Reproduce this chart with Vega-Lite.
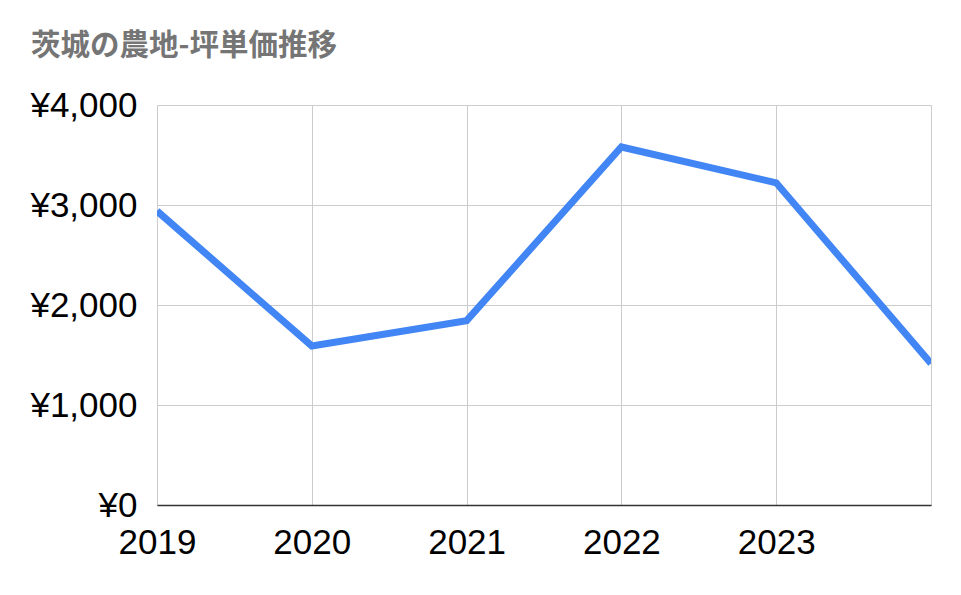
{
  "$schema": "https://vega.github.io/schema/vega-lite/v6.json",
  "width": 774,
  "height": 400,
  "autosize": "none",
  "padding": {"left": 157, "top": 105, "right": 30, "bottom": 90},
  "background": "white",
  "config": {
    "view": {"stroke": "#cccccc", "strokeWidth": 1},
    "font": "Liberation Sans"
  },
  "title": {
    "text": "茨城の農地-坪単価推移",
    "anchor": "start",
    "frame": "group",
    "dx": -126,
    "offset": 27,
    "font": "Noto Sans CJK JP",
    "fontSize": 29.5,
    "fontWeight": "bold",
    "color": "#757575"
  },
  "data": {
    "values": [
      {"year": 2019, "price": 2940},
      {"year": 2020, "price": 1590},
      {"year": 2021, "price": 1843},
      {"year": 2022, "price": 3580},
      {"year": 2023, "price": 3222},
      {"year": 2024, "price": 1415}
    ]
  },
  "mark": {"type": "line", "color": "#4285F4", "strokeWidth": 7, "clip": true},
  "encoding": {
    "x": {
      "field": "year",
      "type": "quantitative",
      "scale": {"domain": [2019, 2024], "nice": false, "zero": false},
      "axis": {
        "title": null,
        "values": [2019, 2020, 2021, 2022, 2023, 2024],
        "labelExpr": "datum.value == 2024 ? '' : format(datum.value, 'd')",
        "ticks": false,
        "labelPadding": 20,
        "labelFontSize": 35,
        "labelColor": "#000000",
        "labelFont": "Liberation Sans",
        "labelFlush": false,
        "labelOverlap": false,
        "grid": true,
        "gridColor": "#cccccc",
        "domainColor": "#333333",
        "domainWidth": 1.5
      }
    },
    "y": {
      "field": "price",
      "type": "quantitative",
      "scale": {"domain": [0, 4000], "nice": false},
      "axis": {
        "title": null,
        "values": [0, 1000, 2000, 3000, 4000],
        "labelExpr": "'¥' + format(datum.value, ',')",
        "ticks": false,
        "domain": false,
        "labelPadding": 20,
        "labelFontSize": 35,
        "labelColor": "#000000",
        "labelFont": "Liberation Sans",
        "labelFlush": false,
        "labelOverlap": false,
        "grid": true,
        "gridColor": "#cccccc"
      }
    }
  }
}
